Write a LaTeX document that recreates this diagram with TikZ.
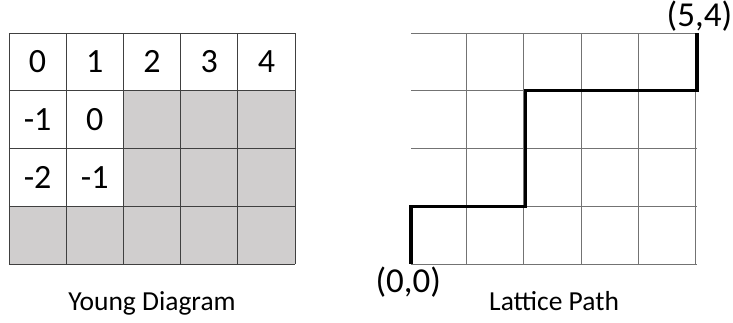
\documentclass[tikz,border=0pt]{standalone}
\usepackage{fontspec}
\setmainfont{Carlito}
\definecolor{cellgray}{RGB}{208,206,206}
\tikzset{cell/.style={font=\fontsize{34}{40}\selectfont,text height=21.5pt,text depth=0pt},
  caption/.style={anchor=base,font=\fontsize{27.5}{30}\selectfont},
  coord/.style={anchor=base,font=\fontsize{35}{40}\selectfont}}
\begin{document}
\begin{tikzpicture}[x=57.2pt,y=57.7pt]
\useasboundingbox (-0.157,-1.023) rectangle (12.658,4.575);
% young diagram
\fill [cellgray] (0,0) rectangle (5,1); \fill [cellgray] (2,1) rectangle (5,3);
\draw [black!75] [line width=0.8pt] (0,0) grid [step={(1,1)}] (5,4);
\node [cell] (a0) at (0.5,3.5) {0}; \node [cell] (a1) at (1.5,3.5) {1}; \node [cell] (a2) at (2.5,3.5) {2};
\node [cell] (a3) at (3.5,3.5) {3}; \node [cell] (a4) at (4.5,3.5) {4};
\node [cell] (b0) at (0.5,2.5) {-1}; \node [cell] (b1) at (1.5,2.5) {0};
\node [cell] (c0) at (0.5,1.5) {-2}; \node [cell] (c1) at (1.5,1.5) {-1};
\node [caption] (young) at (2.5,-0.815) {Young Diagram};
% lattice path
\draw [black!55] [line width=0.8pt] (7.03,0) grid [step={(1,1)}] (12.03,4);
\coordinate (start) at (7.03,0); \coordinate (finish) at (12.03,4);
\draw [line width=3.2pt] (start) -- ++(0,1) -- ++(2,0) -- ++(0,2) -- ++(3,0) -- (finish);
\node [coord] (origin) at (6.98,-0.5) {(0,0)};
\node [coord] (corner) at (12.07,4.11) {(5,4)};
\node [caption] (lattice) at (9.53,-0.815) {Lattice Path};
\end{tikzpicture}
\end{document}
